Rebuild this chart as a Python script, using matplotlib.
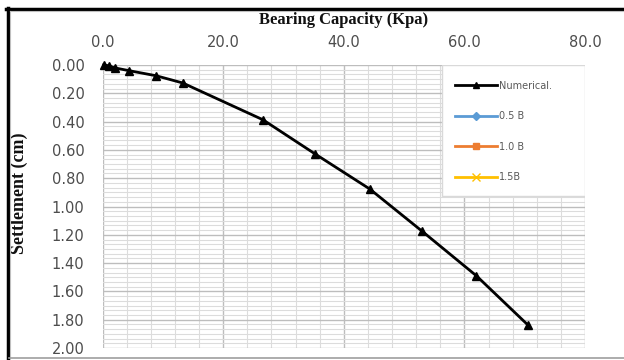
import matplotlib
matplotlib.use("Agg")
import matplotlib.pyplot as plt
from matplotlib.ticker import MultipleLocator, FormatStrFormatter
from matplotlib.lines import Line2D
from matplotlib.patches import Rectangle

# Load-settlement data (numerical model)
bearing_capacity = [0.2, 1.0, 2.0, 4.4, 8.9, 13.3, 26.6, 35.3, 44.3, 53.0, 62.0, 70.6]
settlement = [0.00, 0.005, 0.02, 0.04, 0.076, 0.127, 0.387, 0.63, 0.876, 1.175, 1.49, 1.84]

# Footing-width series (listed in the legend only)
series_names = ["Numerical.", "0.5 B", "1.0 B", "1.5B"]
series_colors = ["#000000", "#5B9BD5", "#ED7D31", "#FFC000"]
series_markers = ["^", "D", "s", "x"]

W, H = 624, 360
fig = plt.figure(figsize=(W / 100, H / 100), dpi=100)
fig.patch.set_facecolor("white")

left, right, top, bottom = 102.5, 585, 65, 348
pw, ph = right - left, bottom - top
ax = fig.add_axes([left / W, 1 - bottom / H, pw / W, ph / H])

ax.set_xlim(0, 80)
ax.set_ylim(2.0, 0.0)
ax.xaxis.set_major_locator(MultipleLocator(20))
ax.xaxis.set_minor_locator(MultipleLocator(4))
ax.yaxis.set_major_locator(MultipleLocator(0.2))
ax.yaxis.set_minor_locator(MultipleLocator(0.2 / 6))
ax.xaxis.set_major_formatter(FormatStrFormatter("%.1f"))
ax.yaxis.set_major_formatter(FormatStrFormatter("%.2f"))
ax.xaxis.tick_top()
ax.xaxis.set_label_position("top")

tick_color = "#4d4d4d"
ax.tick_params(axis="both", which="both", length=0)
ax.tick_params(axis="x", which="major", pad=11, labelsize=10.5, labelcolor=tick_color)
ax.tick_params(axis="y", which="major", pad=13, labelsize=10.5, labelcolor=tick_color)

ax.grid(which="major", color="#bdbdbd", linewidth=1.0)
ax.grid(which="minor", color="#dcdcdc", linewidth=0.8)
ax.set_axisbelow(True)
for s in ax.spines.values():
    s.set_visible(False)

ax.set_xlabel("Bearing Capacity (Kpa)", family="Liberation Serif", fontweight="bold",
              fontsize=12, labelpad=8, color="#111111")
ax.set_ylabel("Settlement (cm)", family="Liberation Serif", fontweight="bold",
              fontsize=13, color="#111111")
ax.yaxis.set_label_coords((28 - left) / pw, 1 - (193 - top) / ph)

# Numerical curve
ax.plot(bearing_capacity, settlement, color="#000000", linewidth=2.0,
        marker="^", markersize=6, zorder=4, clip_on=False)

# Legend panel over the plot area
lx0, ly0 = (442 - left) / pw, 1 - (196 - top) / ph
ax.add_patch(Rectangle((lx0, ly0), 1 - lx0, 1 - ly0, transform=ax.transAxes,
                       facecolor="white", edgecolor="#d9d9d9", linewidth=1.0, zorder=3))

handles = []
for name, c, m in zip(series_names, series_colors, series_markers):
    ms = 4 if m != "x" else 6
    handles.append(Line2D([], [], color=c, linewidth=2.0, marker=m, markersize=ms,
                          markeredgewidth=1.0, label=name))
leg = ax.legend(handles=handles, loc="upper left",
                bbox_to_anchor=(lx0 + 3 / pw, 1.0 - 6 / ph),
                frameon=False, fontsize=7, labelspacing=2.1, handlelength=4.3,
                handletextpad=0.3, borderaxespad=0.0, borderpad=1.0)
for t in leg.get_texts():
    t.set_color("#595959")
leg.set_zorder(5)

# Outer border of the chart
fig.add_artist(Line2D([6 / W, 1.0], [1 - 8.5 / H, 1 - 8.5 / H], color="black", linewidth=2.5))
fig.add_artist(Line2D([7.5 / W, 7.5 / W], [1 - 8 / H, 1 - 358 / H], color="black", linewidth=2.5))
fig.add_artist(Line2D([10 / W, 1.0], [1 - 11 / H, 1 - 11 / H], color="#bfbfbf", linewidth=0.8))
fig.add_artist(Line2D([10 / W, 10 / W], [1 - 11 / H, 1 - 357 / H], color="#bfbfbf", linewidth=0.8))
fig.add_artist(Line2D([9 / W, 1.0], [1 - 358 / H, 1 - 358 / H], color="#9e9e9e", linewidth=1.2))

fig.savefig("out.png", dpi=100, facecolor="white")
